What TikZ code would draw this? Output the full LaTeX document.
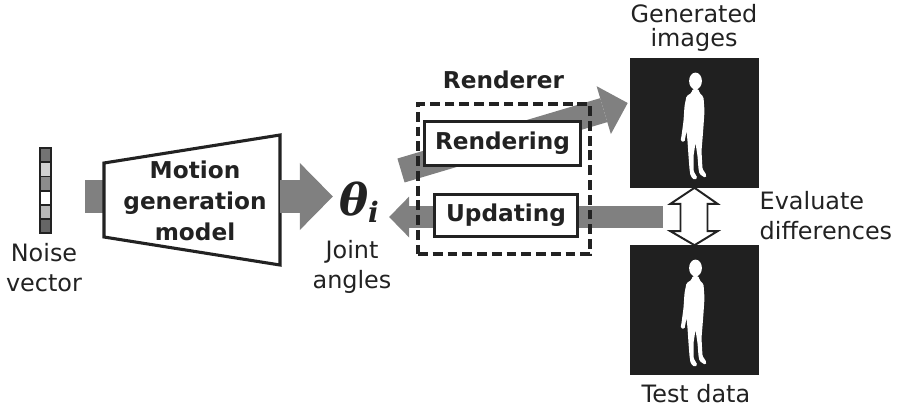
\documentclass[tikz,border=0pt]{standalone}
\usepackage{fontspec}
\setmainfont{DejaVu Sans}
\newfontfamily\greekfont{DejaVu Serif}
\usetikzlibrary{arrows.meta, positioning, calc}
\definecolor{inkdark}{HTML}{222222}
\definecolor{flowgray}{HTML}{808080}
\definecolor{shotblack}{HTML}{202020}

\begin{document}
\begin{tikzpicture}[x=0.025cm, y=-0.025cm,
    txt/.style={font=\fontsize{17}{21.3}\selectfont, text=inkdark, align=center, inner sep=1pt},
    boldtxt/.style={font=\fontsize{16.5}{22}\selectfont\bfseries, text=inkdark, align=center, inner sep=1pt},
    cell/.style={draw=inkdark, line width=1.3pt, minimum width=0.275cm, minimum height=0.354cm, inner sep=0pt},
    stage/.style={boldtxt, draw=inkdark, line width=2.2pt, fill=white},
    shot/.style={fill=shotblack, minimum size=3.225cm, inner sep=0pt},
    flow/.style={draw=flowgray},
    walker/.pic={
        \fill[white] (0,0) ellipse [x radius=0.16cm, y radius=0.21cm];
        \fill[white, rounded corners=1pt]
            (-3,8) -- (-4,12) -- (-9,15) -- (-11,25) -- (-12,40) -- (-14,55)
            -- (-15,60) -- (-11,61) -- (-9,50) -- (-8,60) -- (-7,75) -- (-6,88)
            -- (-5,95) -- (-1,99) -- (2,97) -- (-2,90) -- (-2,75) -- (0,62)
            -- (2,75) -- (3,88) -- (4,93) -- (10,97) -- (11,94) -- (7,88)
            -- (6,70) -- (7,58) -- (8,45) -- (9,30) -- (8,16) -- (4,12)
            -- (3,8) -- cycle;
    },
]
    \useasboundingbox (0,0) rectangle (902,410);

    % Noise vector
    \foreach \shade [count=\i] in {45,82,55,100,72,40} {
        \node[cell, fill=white!\shade!black] (cell\i) at (45.5, 141+\i*14.17) {};
    }
    \node[txt] (noise) at (44, 268) {Noise\\vector};

    % Motion generation model
    \coordinate (m1) at (104,163);
    \coordinate (m2) at (280,135);
    \coordinate (m3) at (280,265);
    \coordinate (m4) at (104,237);
    \coordinate (feed) at (85,196.5);
    \coordinate (mout) at (280,196.5);
    \draw[flow, line width=0.825cm] (feed) -- (feed -| m1);
    \draw[draw=inkdark, line width=2.2pt, line join=miter] (m1) -- (m2) -- (m3) -- (m4) -- cycle;
    \node[boldtxt] (model) at (195,201) {Motion\\generation\\model};

    % Joint angles
    \node[inner sep=0pt, text=inkdark, font=\greekfont\bfseries\itshape\fontsize{31}{34}\selectfont]
        (theta) at (359,202) {θ\raisebox{-5pt}{\fontsize{20}{20}\selectfont i}};
    \node[txt] (angles) at (352,267) {Joint\\angles};
    \draw[flow, line width=0.825cm, shorten >=0.15cm,
          -{Triangle[length=0.825cm, width=1.675cm, line width=0pt]}]
        (mout) -- (mout -| theta.west);

    % Images
    \node[shot] (gen) at (694.5,123) {};
    \node[shot] (test) at (694.5,310) {};
    \pic at ($(gen)+(1,-42)$) {walker};
    \pic at ($(test)+(1,-42)$) {walker};
    \node[txt, font=\fontsize{17}{17}\selectfont] (genlbl) at (694,28) {Generated\\images};
    \node[txt] (testlbl) at (696,394) {Test data};

    % Render / update flows
    \coordinate (rtail) at (401,170.5);
    \coordinate (utail) at (663,217);
    \draw[flow, line width=0.625cm, -{Triangle[length=0.625cm, width=1.25cm, line width=0pt]}]
        (rtail) -- ($(gen.west)+(-2,-20)$);
    \draw[flow, line width=0.55cm, shorten >=0.25cm,
          -{Triangle[length=0.5cm, width=1.025cm, line width=0pt]}]
        (utail) -- (utail -| theta.east);

    % Renderer
    \node[draw=inkdark, line width=2.3pt, dash pattern=on 7pt off 3.5pt,
          minimum width=4.3cm, minimum height=3.75cm] (renderer) at (504,179) {};
    \node[boldtxt] (rendtitle) at (503.5,79.5) {Renderer};
    \node[stage, minimum width=3.9cm, minimum height=1.1cm] (rendering) at (502.5,143.5) {Rendering};
    \node[stage, minimum width=3.58cm, minimum height=1.06cm] (updating) at (506,215.5) {Updating};

    % Evaluate differences
    \draw[fill=white, draw=inkdark, line width=1.4pt, line join=miter]
        (gen.south) -- ($(gen.south)+(23,16)$) -- ($(gen.south)+(13,16)$)
        -- ($(test.north)+(13,-14)$) -- ($(test.north)+(23,-14)$) -- (test.north)
        -- ($(test.north)+(-24,-14)$) -- ($(test.north)+(-14,-14)$)
        -- ($(gen.south)+(-14,16)$) -- ($(gen.south)+(-24,16)$) -- cycle;
    \node[txt, align=left, anchor=west] (evaluate) at (758,215.5) {Evaluate\\differences};
\end{tikzpicture}
\end{document}
